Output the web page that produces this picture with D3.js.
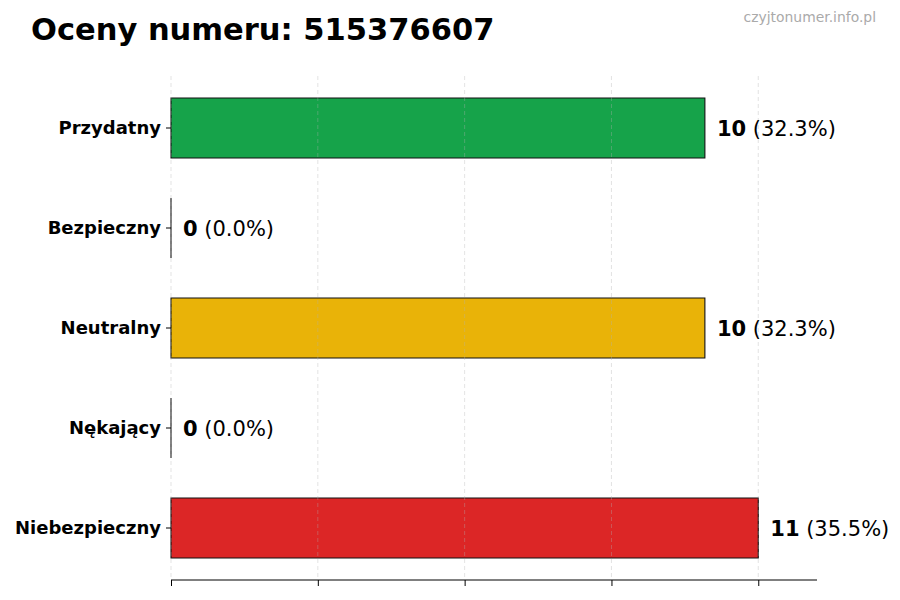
<!DOCTYPE html>
<html>
<head>
<meta charset="utf-8">
<script src="https://cdn.jsdelivr.net/npm/d3@7"></script>
<style>
    body { margin: 0; background: #ffffff; }
    text { font-family: "DejaVu Sans", sans-serif; }
</style>
</head>
<body>
<svg id="chart" width="900" height="600"></svg>
<script>
const title = "Oceny numeru: 515376607";
const watermark = "czyjtonumer.info.pl";
const categories = ["Przydatny", "Bezpieczny", "Neutralny", "Nękający", "Niebezpieczny"];
const counts = [10, 0, 10, 0, 11];
const percents = ["32.3%", "0.0%", "32.3%", "0.0%", "35.5%"];
const colors = ["#16a34a", "#6b7280", "#e9b308", "#f97316", "#dc2626"];

const attr = {
    left: 171,
    right: 817,
    top: 76,
    bottom: 580
};

const svg = d3.select("#chart");

const maxVal = d3.max(counts);
const x = d3.scaleLinear().domain([0, maxVal * 1.1]).range([attr.left, attr.right]);
const y = d3
    .scaleBand()
    .domain(categories)
    .range([attr.top + 2, attr.bottom - 2])
    .paddingInner(0.4)
    .paddingOuter(0.2);

const ticks = d3.range(5).map(i => (maxVal * i) / 4);

const rows = categories.map((c, i) => ({ name: c, value: counts[i], pct: percents[i], color: colors[i] }));

// bars
svg.append("g")
    .selectAll("path")
    .data(rows)
    .enter()
    .append("path")
    .attr("d", d => {
        let p = d3.path();
        p.rect(x(0), y(d.name), x(d.value) - x(0), y.bandwidth());
        return p.toString();
    })
    .style("fill", d => d.color)
    .style("stroke", "#111")
    .style("stroke-width", 1.1);

// grid (drawn over the bars, faint)
svg.append("g")
    .selectAll("line")
    .data(ticks)
    .enter()
    .append("line")
    .attr("x1", d => x(d))
    .attr("x2", d => x(d))
    .attr("y1", attr.top)
    .attr("y2", attr.bottom)
    .style("stroke", "#b0b0b0")
    .style("stroke-opacity", 0.45)
    .style("stroke-dasharray", "4,3")
    .style("stroke-width", 0.8);

// value labels
const labels = svg
    .append("g")
    .selectAll("text")
    .data(rows)
    .enter()
    .append("text")
    .attr("x", d => x(d.value) + 12)
    .attr("y", d => y(d.name) + y.bandwidth() / 2)
    .attr("dy", "0.36em")
    .style("font-size", "21px")
    .style("fill", "#000");

labels.append("tspan").style("font-weight", "bold").text(d => d.value);
labels.append("tspan").text(d => " (" + d.pct + ")");

// y axis (labels + ticks, no spine)
const yAxis = svg
    .append("g")
    .attr("transform", "translate(" + attr.left + ",0)")
    .call(d3.axisLeft(y).tickSize(5).tickPadding(5));
yAxis.select(".domain").remove();
yAxis.selectAll("line").style("stroke", "#000");
yAxis
    .selectAll("text")
    .style("font-family", "DejaVu Sans, sans-serif")
    .style("font-size", "18px")
    .style("font-weight", "bold")
    .style("fill", "#000");

// x axis (ticks only)
const xAxis = svg
    .append("g")
    .attr("transform", "translate(0," + attr.bottom + ")")
    .call(d3.axisBottom(x).tickValues(ticks).tickSize(6).tickFormat(""));
xAxis.select(".domain").attr("d", "M" + attr.left + ",0H" + attr.right).style("stroke", "#000");
xAxis.selectAll("line").style("stroke", "#000");

// title + watermark
svg.append("text")
    .attr("x", 31)
    .attr("y", 40)
    .style("font-size", "30.5px")
    .style("font-weight", "bold")
    .text(title);

svg.append("text")
    .attr("x", 876)
    .attr("y", 22)
    .attr("text-anchor", "end")
    .style("font-size", "13.9px")
    .style("fill", "#aaa")
    .text(watermark);
</script>
</body>
</html>
